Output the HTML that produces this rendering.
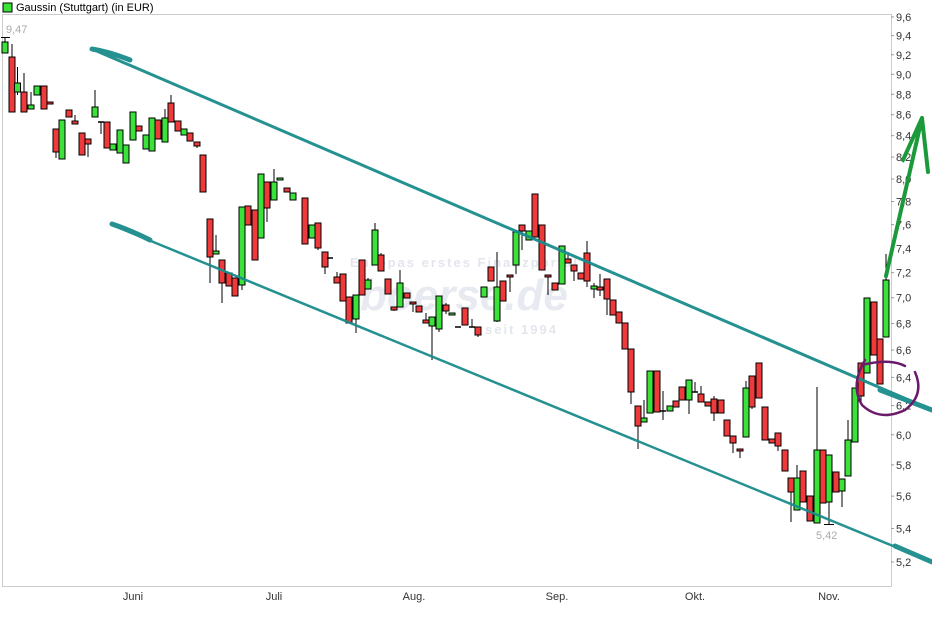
<!DOCTYPE html>
<html><head><meta charset="utf-8"><style>
body{margin:0;background:#fff;font-family:"Liberation Sans",sans-serif}
svg{display:block}
text{font-family:"Liberation Sans",sans-serif}
</style></head><body>
<svg id="s" width="932" height="620" xmlns="http://www.w3.org/2000/svg">
<rect x="0" y="0" width="932" height="620" fill="#fff"/>
<rect x="3" y="3" width="9" height="9" fill="#3ae23a" stroke="#000" stroke-width="1"/>
<text x="16" y="11" font-size="11" fill="#000">Gaussin (Stuttgart) (in EUR)</text>
<rect x="2.5" y="14.5" width="889" height="572" fill="none" stroke="#ccc"/>
<g font-weight="bold">
<text x="350" y="267" font-size="13" fill="#e4e6ee" letter-spacing="2">Europas erstes Finanzportal</text>
<text x="360" y="310" font-size="44" font-style="italic" fill="#e8eaf2">boerse.de</text>
<text x="485" y="334" font-size="13" fill="#e4e6ee" letter-spacing="2">seit 1994</text>
</g>
<g id="yl" font-size="11" fill="#333"></g>
<g font-size="11" fill="#333" text-anchor="middle">
<text x="133" y="600">Juni</text><text x="274" y="600">Juli</text><text x="414" y="600">Aug.</text><text x="557" y="600">Sep.</text><text x="695" y="600">Okt.</text><text x="829" y="600">Nov.</text>
</g>
<g id="c"></g>
<text x="6" y="33" font-size="11" fill="#aaa">9,47</text>
<text x="816" y="539" font-size="11" fill="#aaa">5,42</text>
<line x1="1" y1="37.5" x2="10" y2="37.5" stroke="#000"/>
<line x1="824" y1="524.5" x2="834" y2="524.5" stroke="#000"/>
<g stroke="#1a8c8c" fill="none" stroke-linecap="round" opacity="0.95">
<path d="M92 49 L932 410" stroke-width="3"/>
<path d="M92 49 Q110 52 130 60" stroke-width="5"/>
<path d="M112 225 L932 562" stroke-width="2.5"/>
<path d="M112 224 Q130 230 150 240" stroke-width="5"/>
<path d="M895 546 L932 562" stroke-width="5"/>
<path d="M880 390 L932 410" stroke-width="5"/>
</g>
<path d="M862 365 Q890 358 905 366 M915 372 Q925 395 905 410 Q880 422 862 405 Q850 385 865 360" stroke="#6a1a6a" stroke-width="2.5" fill="none" stroke-linecap="round"/>
<path d="M886 276 L922 118 M903 160 L922 118 L928 172" stroke="#1a9a3a" stroke-width="4" fill="none" stroke-linecap="round" stroke-linejoin="round"/>
</svg>
<script>
var NS="http://www.w3.org/2000/svg";
var yl=document.getElementById('yl');
function Y(v){return 562-(Math.log(v)-Math.log(5.2))*889;}
for(var i=0;i<=22;i++){var v=5.2+i*0.2;var y=Y(v);var t=document.createElementNS(NS,'text');t.setAttribute('x',896);t.setAttribute('y',y+4);t.textContent=v.toFixed(1).replace('.',',');yl.appendChild(t);
var l=document.createElementNS(NS,'line');l.setAttribute('x1',891);l.setAttribute('x2',894);l.setAttribute('y1',y);l.setAttribute('y2',y);l.setAttribute('stroke','#999');yl.appendChild(l);}
var d=[[5,42,53,37,53,'g'],[12,57,112,44,112,'r'],[17.5,83,92,67,95,'g'],[24,92,112,73,112,'r'],[31,105,109,92,109,'g'],[37,86,95,86,95,'g'],[44,86,109,86,109,'r'],[50,102,104,102,104,'r'],[56,129,152,129,158,'r'],[62,120,159,120,159,'g'],[69,110,117,110,117,'r'],[75,121,124,115,124,'r'],[82,133,155,133,155,'r'],[88,139,144,139,157,'r'],[95,107,117,90,117,'g'],[101,122,122,122,134,'d'],[107,122,148,122,148,'r'],[113,144,150,144,150,'g'],[120,130,153,130,153,'g'],[126,145,163,145,163,'g'],[133,112,140,112,140,'g'],[139,126,131,126,131,'r'],[146,135,149,135,149,'g'],[152,118,151,118,151,'g'],[158,120,139,120,139,'r'],[165,118,142,109,142,'g'],[171,103,122,95,122,'r'],[178,121,131,121,131,'r'],[184,129,135,129,135,'g'],[190,133,141,133,141,'r'],[197,142,146,142,148,'r'],[203,155,192,155,192,'r'],[210,219,257,219,283,'r'],[216,251,254,235,254,'g'],[222,260,283,260,303,'r'],[229,273,286,273,286,'r'],[235,278,296,278,296,'r'],[242,207,285,207,290,'g'],[248,206,225,206,225,'r'],[255,210,260,210,260,'r'],[261,174,238,174,238,'g'],[267,182,208,182,222,'r'],[274,182,200,169,200,'g'],[280,178,180,178,180,'g'],[287,188,192,188,192,'r'],[293,193,200,193,200,'g'],[305,198,244,198,244,'r'],[312,225,238,225,238,'g'],[318,223,248,223,250,'r'],[325,252,267,252,274,'r'],[330,258,258,258,258,'d'],[337,277,283,272,283,'r'],[343,274,301,274,301,'r'],[349,297,323,297,323,'r'],[356,295,319,295,333,'g'],[362,260,295,260,295,'r'],[368,280,289,278,289,'g'],[375,230,265,223,265,'g'],[381,255,271,253,271,'r'],[388,279,294,279,294,'r'],[394,307,310,307,311,'r'],[400,283,307,270,307,'g'],[407,293,298,293,298,'r'],[413,302,304,302,312,'r'],[419,306,312,306,312,'r'],[426,320,323,313,323,'r'],[432,317,326,317,360,'g'],[439,296,329,296,332,'g'],[446,305,311,303,314,'r'],[452,313,315,313,315,'g'],[458,327,327,327,327,'d'],[465,308,325,308,325,'r'],[472,327,327,319,327,'d'],[478,327,335,327,337,'r'],[484,287,297,287,297,'g'],[491,267,281,267,281,'r'],[497,287,321,252,322,'g'],[503,281,301,281,301,'r'],[510,275,277,275,292,'r'],[516,232,265,232,274,'g'],[522,225,231,225,250,'r'],[529,231,240,231,240,'g'],[535,194,237,194,237,'r'],[542,225,270,225,270,'r'],[548,275,277,275,295,'r'],[555,283,290,283,290,'r'],[562,246,284,246,284,'g'],[568,259,263,252,263,'r'],[574,265,271,265,281,'r'],[581,273,279,273,279,'r'],[587,253,281,241,287,'r'],[594,286,289,283,298,'g'],[600,287,290,274,296,'r'],[607,279,299,279,315,'r'],[613,300,315,300,315,'r'],[619,312,323,312,323,'r'],[625,323,349,323,349,'r'],[631,349,392,349,404,'r'],[638,406,426,406,449,'r'],[644,418,422,400,422,'g'],[650,371,413,371,413,'g'],[657,371,412,371,412,'r'],[663,411,411,391,420,'d'],[670,406,411,406,411,'g'],[676,401,407,401,407,'r'],[682,387,400,387,400,'r'],[689,380,400,380,414,'g'],[695,392,392,382,392,'d'],[701,394,402,386,402,'r'],[708,402,406,402,406,'r'],[714,399,413,396,421,'r'],[721,400,413,400,413,'r'],[727,420,436,420,436,'r'],[733,436,443,436,453,'r'],[740,449,450,449,458,'r'],[746,388,437,381,437,'g'],[752,376,407,376,409,'r'],[759,363,398,363,398,'r'],[765,407,440,407,440,'r'],[772,439,443,439,443,'r'],[778,433,446,433,451,'r'],[785,450,471,450,471,'r'],[791,478,492,478,522,'r'],[797,478,510,465,510,'g'],[803,471,502,471,502,'r'],[810,496,521,496,521,'r'],[817,450,523,387,523,'g'],[823,450,503,450,503,'r'],[829,455,502,455,524,'g'],[836,472,492,472,492,'r'],[842,479,491,479,507,'g'],[848,440,476,420,476,'g'],[855,388,442,388,442,'g'],[861,363,396,363,404,'r'],[867,298,373,298,373,'g'],[874,302,355,302,355,'r'],[880,339,384,339,384,'r'],[886,280,337,254,337,'g']];
var c=document.getElementById('c'),h='';
d.forEach(function(k){var x=k[0];h+='<line x1="'+x+'" x2="'+x+'" y1="'+k[3]+'" y2="'+k[4]+'" stroke="#000" stroke-width="1"/>';
if(k[5]=='d'){h+='<line x1="'+(x-3)+'" x2="'+(x+3)+'" y1="'+k[1]+'" y2="'+k[1]+'" stroke="#000" stroke-width="1.5"/>';}
else{var hh=Math.max(k[2]-k[1],2);h+='<rect x="'+(x-3)+'" y="'+k[1]+'" width="6" height="'+hh+'" fill="'+(k[5]=='g'?'#3ae23a':'#ee3a3a')+'" stroke="#000" stroke-width="1"/>';}});
c.innerHTML=h;
</script>
</body></html>
